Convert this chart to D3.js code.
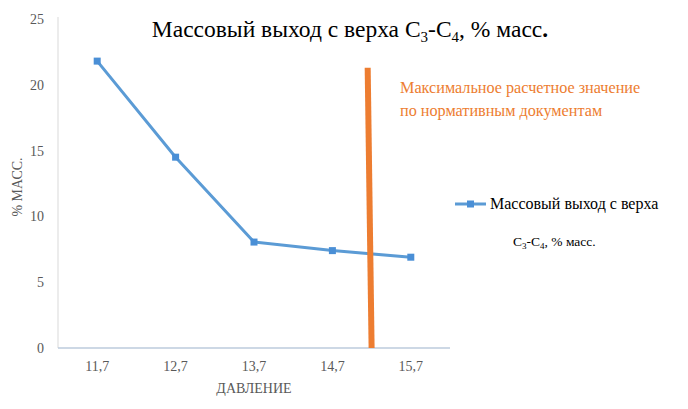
<!DOCTYPE html>
<html>
<head>
<meta charset="utf-8">
<script src="https://cdn.jsdelivr.net/npm/d3@7"></script>
</head>
<body style="margin:0; background:#fff">
<svg id="chart" width="688" height="409" style="display:block"></svg>
<script>
const pressure = ['11,7', '12,7', '13,7', '14,7', '15,7'];
const pressureValues = [11.7, 12.7, 13.7, 14.7, 15.7];
const yieldValues = [21.8, 14.5, 8.05, 7.4, 6.9];
const yTicks = [0, 5, 10, 15, 20, 25];
// vertical limit line (pressure, value)
const limitLine = [[15.2, 0], [15.15, 21.3]];

const FONT = "'Liberation Serif', 'Times New Roman', serif";

const svg = d3.select('#chart').attr('font-family', FONT);
const margin = { left: 58, top: 19, right: 238, bottom: 61 };
const width = 688 - margin.left - margin.right;
const height = 409 - margin.top - margin.bottom;

const g = svg.append('g').attr('transform', `translate(${margin.left},${margin.top})`);

const x = d3.scaleLinear().domain([11.2, 16.2]).range([0, width]);
const y = d3.scaleLinear().domain([0, 25]).range([height, 0]);

// left axis line
g.append('line')
  .attr('x1', 0).attr('x2', 0)
  .attr('y1', -2).attr('y2', height)
  .attr('stroke', '#d9d9d9');

// y tick labels
g.selectAll('.ytick')
  .data(yTicks)
  .enter()
  .append('text')
  .attr('font-family', FONT)
  .attr('x', -14)
  .attr('y', d => y(d))
  .attr('dy', '0.35em')
  .attr('text-anchor', 'end')
  .attr('font-size', 14)
  .attr('fill', '#595959')
  .text(d => d);

// bottom axis
g.append('line')
  .attr('x1', 0).attr('x2', width)
  .attr('y1', height).attr('y2', height)
  .attr('stroke', '#bccbdc')
  .attr('stroke-width', 1.5);

g.selectAll('.xtick')
  .data(pressureValues)
  .enter()
  .append('text')
  .attr('font-family', FONT)
  .attr('x', d => x(d))
  .attr('y', height + 23)
  .attr('text-anchor', 'middle')
  .attr('font-size', 14)
  .attr('fill', '#595959')
  .text((d, i) => pressure[i]);

// axis titles
g.append('text')
  .attr('font-family', FONT)
  .attr('x', x(13.7))
  .attr('y', height + 45)
  .attr('text-anchor', 'middle')
  .attr('font-size', 14)
  .attr('fill', '#595959')
  .text('ДАВЛЕНИЕ');

svg.append('text')
  .attr('font-family', FONT)
  .attr('transform', 'translate(22,187) rotate(-90)')
  .attr('text-anchor', 'middle')
  .attr('font-size', 14)
  .attr('fill', '#595959')
  .text('% МАСС.');

// series line
const data = pressureValues.map((p, i) => ({ p, v: yieldValues[i] }));
const line = d3.line().x(d => x(d.p)).y(d => y(d.v));

g.append('path')
  .datum(data)
  .attr('fill', 'none')
  .attr('stroke', '#5b9bd5')
  .attr('stroke-width', 3)
  .attr('stroke-linejoin', 'round')
  .attr('d', line);

g.selectAll('.marker')
  .data(data)
  .enter()
  .append('rect')
  .attr('x', d => x(d.p) - 3.5)
  .attr('y', d => y(d.v) - 3.5)
  .attr('width', 7)
  .attr('height', 7)
  .attr('fill', '#4a8fd6');

// orange limit line
g.append('path')
  .datum(limitLine)
  .attr('fill', 'none')
  .attr('stroke', '#ed7d31')
  .attr('stroke-width', 6)
  .attr('d', d3.line().x(d => x(d[0])).y(d => y(d[1])));

// annotation
const note = svg.append('text')
  .attr('font-family', FONT)
  .attr('x', 400)
  .attr('y', 93)
  .attr('font-size', 16.2)
  .attr('fill', '#ed7d31');
note.append('tspan').attr('x', 400).text('Максимальное расчетное значение');
note.append('tspan').attr('x', 400).attr('dy', 23).text('по нормативным документам');

// title
const title = svg.append('text')
  .attr('font-family', FONT)
  .attr('x', 350)
  .attr('y', 37)
  .attr('text-anchor', 'middle')
  .attr('font-size', 23.5)
  .attr('fill', '#000');
title.append('tspan').text('Массовый выход с верха C');
title.append('tspan').attr('font-size', 15).attr('dy', 5).text('3');
title.append('tspan').attr('dy', -5).text('-C');
title.append('tspan').attr('font-size', 15).attr('dy', 5).text('4');
title.append('tspan').attr('dy', -5).text(', % масс');
title.append('tspan').attr('font-weight', 'bold').text('.');

// legend
const lg = svg.append('g');
lg.append('line')
  .attr('x1', 455).attr('x2', 486)
  .attr('y1', 204).attr('y2', 204)
  .attr('stroke', '#5b9bd5')
  .attr('stroke-width', 3);
lg.append('rect')
  .attr('x', 467).attr('y', 200.5)
  .attr('width', 7).attr('height', 7)
  .attr('fill', '#4a8fd6');
lg.append('text')
  .attr('font-family', FONT)
  .attr('x', 490).attr('y', 209)
  .attr('font-size', 16)
  .attr('fill', '#000')
  .text('Массовый выход с верха');
const lg2 = lg.append('text')
  .attr('font-family', FONT)
  .attr('x', 513).attr('y', 246)
  .attr('font-size', 13.5)
  .attr('fill', '#000');
lg2.append('tspan').text('C');
lg2.append('tspan').attr('font-size', 9).attr('dy', 3).text('3');
lg2.append('tspan').attr('dy', -3).text('-C');
lg2.append('tspan').attr('font-size', 9).attr('dy', 3).text('4');
lg2.append('tspan').attr('dy', -3).text(', % масс.');
</script>
</body>
</html>
